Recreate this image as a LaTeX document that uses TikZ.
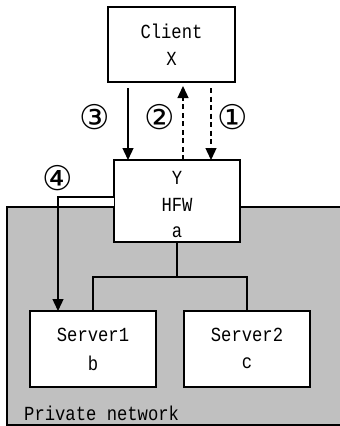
\documentclass[tikz,border=0pt]{standalone}
\usepackage{fontspec}
\newfontfamily\tfont[FakeStretch=0.86]{Liberation Mono}
\newfontfamily\symfont{DejaVu Sans}
\usetikzlibrary{arrows.meta}
\begin{document}
\begin{tikzpicture}[x=1pt,y=-1pt,
  box/.style={draw=black,line width=1.3pt,fill=white,inner sep=0pt,minimum width=#1},
  lbl/.style={font=\tfont\fontsize{20}{20}\selectfont,inner sep=0pt},
  num/.style={font=\symfont\fontsize{34}{34}\selectfont,inner sep=0pt},
  arr/.style={line width=1.3pt,-{Triangle[length=12pt,width=11pt]}},
  dsh/.style={arr,dash pattern=on 5pt off 3.5pt},
  wire/.style={line width=1.3pt}]
\useasboundingbox (0,0) rectangle (340,426);
% private network area
\draw[line width=1.3pt,fill={rgb,255:red,192;green,192;blue,192}] (350,207) -- (7,207) -- (7,425) -- (350,425);
% boxes
\draw[box] (108,7) rectangle (235,82);
\node[lbl] (client) at (171.5,31) {Client};
\node[lbl] (x) at (171.5,59) {X};
\draw[box] (114,160) rectangle (240,242);
\node[lbl] (y) at (177,178) {Y};
\node[lbl] (hfw) at (177,205) {HFW};
\node[lbl] (a) at (177,232) {a};
\draw[box] (30,311) rectangle (156,387);
\node[lbl] (s1) at (93,335) {Server1};
\node[lbl] (b) at (93,363) {b};
\draw[box] (184,311) rectangle (310,387);
\node[lbl] (s2) at (247,335) {Server2};
\node[lbl] (c) at (247,363) {c};
\node[lbl,anchor=west] (pn) at (24,413) {Private network};
% coordinates
\coordinate (c3a) at (128,88); \coordinate (c3b) at (128,160);
\coordinate (c2a) at (183,160); \coordinate (c2b) at (183,86);
\coordinate (c1a) at (211,88); \coordinate (c1b) at (211,160);
\coordinate (h4) at (114,197); \coordinate (k4) at (58,197); \coordinate (e4) at (58,311);
\coordinate (hb) at (177,242); \coordinate (j) at (177,277);
\coordinate (jl) at (93,277); \coordinate (jr) at (247,277);
\coordinate (s1t) at (93,311); \coordinate (s2t) at (247,311);
% arrows
\fill[white] (k4|-h4) rectangle (114,206.3);
\draw[arr] (c3a) -- (c3b);
\draw[dsh] (c2a) -- (c2b);
\draw[dsh] (c1a) -- (c1b);
\draw[arr] (h4) -- (k4) -- (e4);
\draw[wire] (hb) -- (j);
\draw[wire] (s1t) -- (jl) -- (jr) -- (s2t);
% labels
\node[num] (n3) at (95,117) {③};
\node[num] (n2) at (160,117) {②};
\node[num] (n1) at (233,117) {①};
\node[num] (n4) at (58,178) {④};
\end{tikzpicture}
\end{document}
